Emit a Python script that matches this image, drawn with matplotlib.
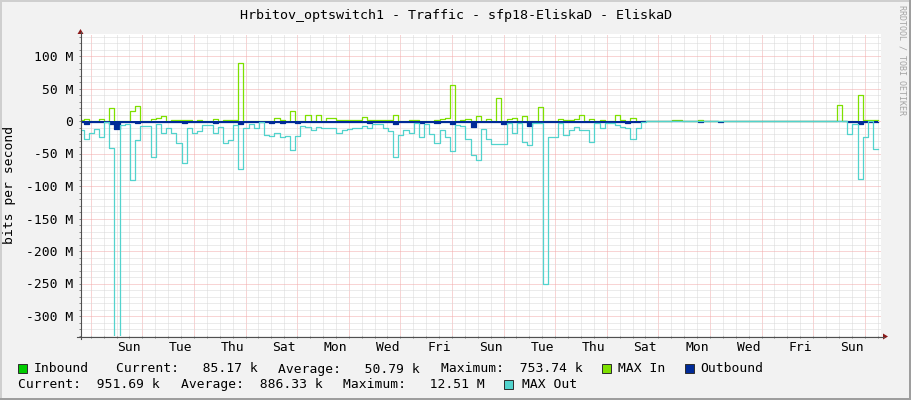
import numpy as np
import matplotlib
matplotlib.use('Agg')
import matplotlib.pyplot as plt
from matplotlib.patches import Rectangle, Polygon

plt.rcParams['font.family'] = 'DejaVu Sans Mono'

# ---------------------------------------------------------------
# data: Mbit/s, one value per 0.2 day step (first step is partial)
# ---------------------------------------------------------------
first_edge = 0.097   # days from graph start
step_days = 0.2

inbound = [
    0.05, 0.1, 0.05, 0.05, 0.1, 0.05, 0.4, 0.05, 0.05, 0.05,
    0.3, 0.5, 0.05, 0.05, 0.05, 0.1, 0.1, 0.05, 0.05, 0.05,
    0.05, 0.05, 0.05, 0.05, 0.05, 0.05, 0.05, 0.05, 0.05, 0.05,
    0.05, 0.75, 0.05, 0.05, 0.05, 0.05, 0.05, 0.05, 0.1, 0.05,
    0.05, 0.3, 0.05, 0.05, 0.2, 0.05, 0.2, 0.05, 0.1, 0.1,
    0.05, 0.05, 0.05, 0.05, 0.05, 0.1, 0.05, 0.05, 0.05, 0.05,
    0.05, 0.2, 0.05, 0.05, 0.05, 0.05, 0.05, 0.05, 0.05, 0.05,
    0.05, 0.1, 0.6, 0.05, 0.05, 0.05, 0.05, 0.1, 0.05, 0.05,
    0.05, 0.4, 0.05, 0.05, 0.1, 0.05, 0.1, 0.05, 0.05, 0.3,
    0.05, 0.05, 0.05, 0.05, 0.05, 0.05, 0.05, 0.2, 0.05, 0.05,
    0.05, 0.05, 0.05, 0.05, 0.2, 0.05, 0.05, 0.1, 0.05, 0,
    0, 0, 0, 0, 0, 0, 0, 0, 0, 0,
    0, 0, 0, 0, 0, 0, 0, 0, 0, 0,
    0, 0, 0, 0, 0, 0, 0, 0, 0, 0,
    0, 0, 0, 0, 0, 0, 0, 0.3, 0, 0.05,
    0.05, 0.5, 0.05, 0.05, 0.09,
]

max_in = [
    1.5, 3, 0, 0, 3, 0, 19.5, 0.5, 0.5, 0.5,
    16, 22.5, 0, 0, 2.5, 5, 7, 0, 1, 1,
    1, 1, 0, 1, 0, 0, 2.5, 0, 1, 1,
    1, 88.7, 0.3, 0.3, 0.3, 0.3, 0.3, 0.5, 4, 2,
    0, 15, 0, 0, 10, 0, 9, 0, 4, 4,
    1, 1, 1, 1, 1, 5.5, 1, 1, 1, 1,
    1, 8.7, 0, 0, 1, 1, 0, 0, 0, 1,
    3, 4.6, 55.4, 0, 1, 2.5, 0, 7, 0, 2.5,
    0, 35, 0, 2.5, 4, 0, 7, 0, 0, 21,
    0, 0, 0, 2.5, 1, 1, 2.5, 10, 0, 3,
    0, 1, 0, 0, 10, 1, 0, 5, 0, 0,
    0, 0, 0, 0, 0, 1, 1, 0, 0, 0,
    1, 0, 0, 0, 0, 0, 0, 0, 0, 0,
    0, 0, 0, 0, 0, 0, 0, 0, 0, 0,
    0, 0, 0, 0, 0, 0, 0, 24, 0, 0,
    0, 39.5, 1, 1, 1,
]

outbound = [
    -0.9, -4, -0.9, -0.9, -0.9, -0.9, -4, -13, -0.9, -0.9,
    -0.9, -3, -0.9, -0.9, -0.9, -0.9, -0.9, -0.9, -0.9, -0.9,
    -2.5, -0.9, -0.9, -0.9, -0.9, -0.9, -2.5, -0.9, -0.9, -0.9,
    -0.9, -4, -0.9, -0.9, -0.9, -0.9, -0.9, -2.5, -0.9, -2.5,
    -0.9, -0.9, -2.5, -0.9, -0.9, -0.9, -0.9, -0.9, -0.9, -0.9,
    -0.9, -0.9, -0.9, -0.9, -0.9, -0.9, -2.5, -0.9, -0.9, -0.9,
    -0.9, -4, -0.9, -0.9, -0.9, -0.9, -2.5, -0.9, -0.9, -2.5,
    -0.9, -0.9, -4, -0.9, -0.9, -0.9, -8.7, -0.9, -0.9, -0.9,
    -0.9, -1.5, -5, -0.9, -0.9, -0.9, -0.9, -7, -0.9, -0.9,
    -1.5, -1.5, -0.9, -0.9, -0.9, -0.9, -0.9, -0.9, -0.9, -0.9,
    -0.9, -0.9, -0.9, -0.9, -0.9, -0.9, -2.5, -0.9, -0.9, 0,
    0, 0, 0, 0, 0, 0, 0, 0, 0, 0,
    -1.5, 0, 0, 0, -1.5, 0, 0, 0, 0, 0,
    0, 0, 0, 0, 0, 0, 0, 0, 0, 0,
    0, 0, 0, 0, 0, 0, 0, 0, 0, -0.9,
    -0.9, -4, -0.9, -0.9, -0.9,
]

max_out = [
    -14, -27, -19, -12, -25, -1, -42, -400, -6, -5,
    -90, -29, -8, -7, -55, -5, -18, -11, -19, -34,
    -64, -10, -19, -15, -6, -6, -18, -9, -34, -29,
    -6, -74, -11, -5, -11, -1, -21.5, -22.5, -19, -24,
    -23, -45, -23, -8, -9, -14, -9, -11, -10, -10,
    -19, -14, -12, -11, -11, -7, -10, -5, -5, -10,
    -16, -55, -22, -14, -19, -3.6, -25, -5, -20, -34,
    -14, -24, -46, -6, -8, -27, -52, -60, -13, -27,
    -36, -36, -36, -2.5, -19, -2.5, -32, -37, -2.5, -2.5,
    -250, -25, -25, -2.5, -21.5, -14, -9, -14, -14, -33,
    -2.5, -11, -3.6, -3.6, -6, -9, -10, -27, -10, -1.5,
    0, 0, 0, 0, 0, 0, 0, 0, 0, 0,
    0, 0, 0, 0, 0, 0, 0, 0, 0, 0,
    0, 0, 0, 0, 0, 0, 0, 0, 0, 0,
    0, 0, 0, 0, 0, 0, 0, 0, 0, -20.5,
    -5, -89.7, -25, 0, -43.6,
]

day_labels = ['Sun', 'Tue', 'Thu', 'Sat', 'Mon', 'Wed', 'Fri', 'Sun',
              'Tue', 'Thu', 'Sat', 'Mon', 'Wed', 'Fri', 'Sun']
y_ticks = [-300, -250, -200, -150, -100, -50, 0, 50, 100]
y_tick_labels = ['-300 M', '-250 M', '-200 M', '-150 M', '-100 M', '-50 M',
                 '0', '50 M', '100 M']

title = 'Hrbitov_optswitch1 - Traffic - sfp18-EliskaD - EliskaD'
legend_row1 = ['Inbound', 'Current:   85.17 k', 'Average:   50.79 k',
               'Maximum:  753.74 k', 'MAX In', 'Outbound']
legend_row2 = ['Current:  951.69 k', 'Average:  886.33 k',
               'Maximum:   12.51 M', 'MAX Out']

c_in = '#00cc00'
c_maxin = '#7ee000'
c_out = '#002a97'
c_maxout = '#52d3cd'

# ---------------------------------------------------------------
# layout (pixels)
# ---------------------------------------------------------------
W, H = 911, 400
L, R, T, B = 81, 881, 34, 336
px_day = 25.8
px_M = 0.65
zero_y = 121

fig = plt.figure(figsize=(W / 100, H / 100), dpi=100, facecolor='#f2f2f2')
ax = fig.add_axes([L / W, 1 - B / H, (R - L) / W, (B - T) / H])
ax.set_facecolor('white')
ax.set_xlim(0, (R - L) / px_day)
ax.set_ylim(-(B - zero_y) / px_M, (zero_y - T) / px_M)

n = len(max_out)
edges = np.concatenate([[0.0], first_edge + step_days * np.arange(n)])

def stepvals(v):
    v = np.asarray(v, dtype=float)
    return np.append(v, v[-1])

ax.fill_between(edges, 0, stepvals(inbound), step='post', color=c_in, lw=0, zorder=2)
ax.plot(edges, stepvals(max_in), drawstyle='steps-post', color=c_maxin, lw=0.9, zorder=3)
ax.fill_between(edges, 0, stepvals(outbound), step='post', color=c_out, lw=0, zorder=4)
ax.plot(edges, stepvals(outbound), drawstyle='steps-post', color=c_out, lw=0.9, zorder=4)
ax.plot(edges, stepvals(max_out), drawstyle='steps-post', color=c_maxout, lw=0.9, zorder=5)

# grid
major_x = np.arange(0.376, 31, 2)
minor_x = np.arange(0.376, 31, 0.5)
ax.set_xticks(major_x)
ax.set_xticks(minor_x, minor=True)
ax.set_xticklabels([])
ax.set_yticks(y_ticks, y_tick_labels)
ax.set_yticks(np.arange(-330, 131, 10), minor=True)
ax.grid(which='major', color='#f3aaaa', ls=(0, (1, 1)), lw=0.72)
ax.grid(which='minor', color='#d8d8d8', ls=(0, (1, 1)), lw=0.72)
ax.set_axisbelow(True)
ax.tick_params(which='both', length=1.6, width=0.72, color='#888888', direction='out')
ax.tick_params(axis='y', labelsize=9.4, pad=4)
for s in ax.spines.values():
    s.set_visible(False)

for i, lab in enumerate(day_labels):
    ax.text(1.876 + 2 * i, -(351 - B) / (B - T), lab, transform=ax.get_xaxis_transform(),
            ha='center', va='baseline', fontsize=9.4)

# ---------------------------------------------------------------
# decoration overlay in pixel coordinates
# ---------------------------------------------------------------
ov = fig.add_axes([0, 0, 1, 1])
ov.set_xlim(0, W)
ov.set_ylim(H, 0)
ov.axis('off')

axis_c = '#505050'
arrow_c = '#8b1a1a'
ov.plot([77, 884], [336.5, 336.5], color=axis_c, lw=0.8)
ov.plot([80.5, 80.5], [339, 32], color=axis_c, lw=0.8)
ov.add_patch(Polygon([[883, 333.5], [888, 336.5], [883, 339.5]], color=arrow_c, lw=0))
ov.add_patch(Polygon([[77.5, 34], [80.5, 29], [83.5, 34]], color=arrow_c, lw=0))

ov.text(W / 2, 19, title, ha='center', va='baseline', fontsize=9.6)
ov.text(10, (T + B) / 2, 'bits per second', rotation=90, ha='center', va='center', fontsize=9.4)
ov.text(902, 5, 'RRDTOOL / TOBI OETIKER', rotation=-90, ha='center', va='top',
        fontsize=6, color='#a4a4a4')

# legend
row1_x = [34, 116.5, 278.5, 440.7, 618.5, 700.6]
row2_x = [18.5, 181, 343, 521.5]
for x, s in zip(row1_x, legend_row1):
    ov.text(x, 372.5, s, ha='left', va='baseline', fontsize=9.4)
for x, s in zip(row2_x, legend_row2):
    ov.text(x, 388, s, ha='left', va='baseline', fontsize=9.4)
for x, y, c in [(17.5, 364, c_in), (601.7, 364, c_maxin), (684.5, 364, c_out),
                (503.5, 379.5, c_maxout)]:
    ov.add_patch(Rectangle((x, y), 9, 9, facecolor=c, edgecolor='#303030', lw=0.72))

# 3d border
ov.add_patch(Rectangle((0, 0), W, 2, color='#cfcfcf', lw=0))
ov.add_patch(Rectangle((0, 0), 2, H, color='#cfcfcf', lw=0))
ov.add_patch(Rectangle((0, H - 2), W, 2, color='#9e9e9e', lw=0))
ov.add_patch(Rectangle((W - 2, 0), 2, H, color='#9e9e9e', lw=0))

fig.savefig('out.png', dpi=100, facecolor=fig.get_facecolor())
